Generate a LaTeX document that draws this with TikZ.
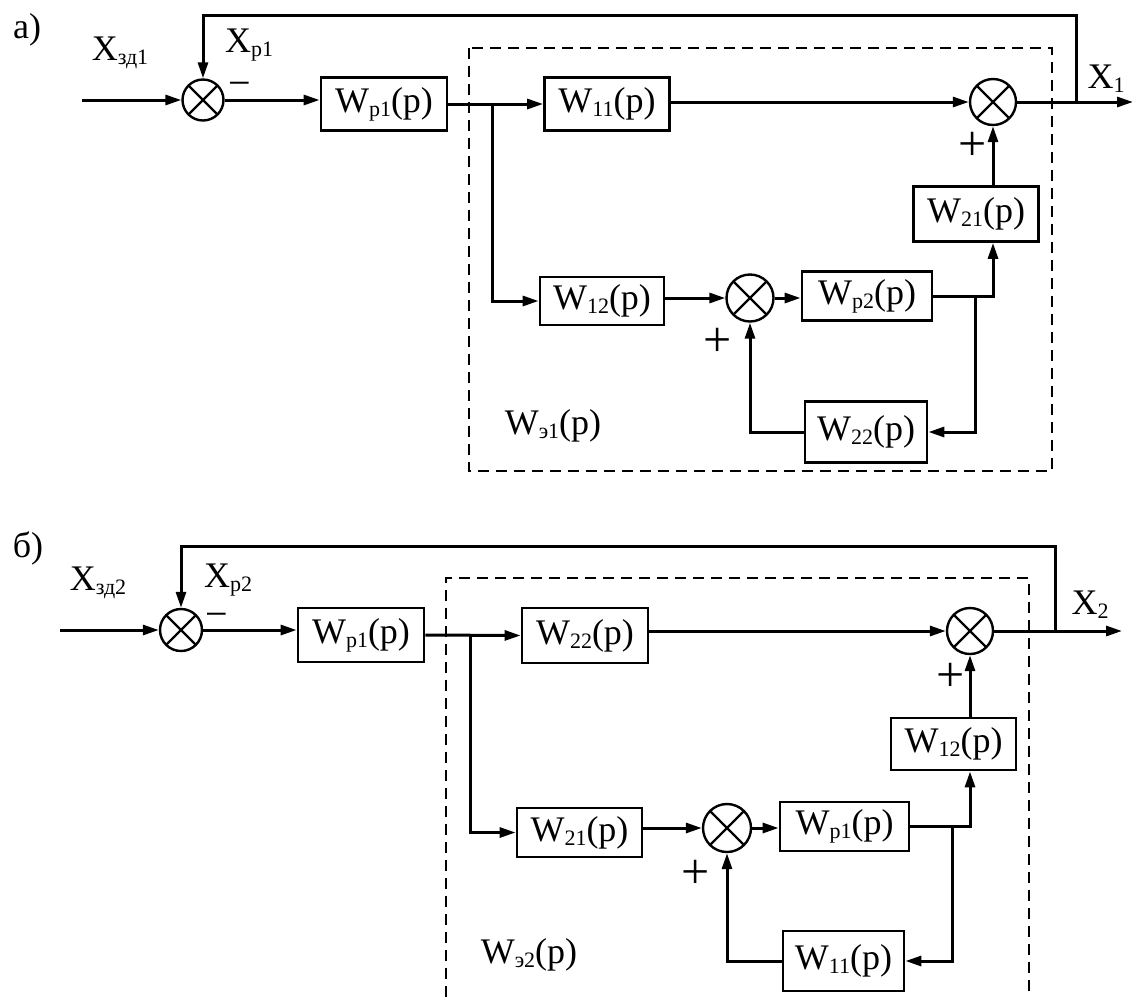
\documentclass[tikz,border=0pt]{standalone}
\usepackage{fontspec}
\setmainfont{Liberation Serif}
\usetikzlibrary{arrows.meta,calc}
\newcommand\sbx[1]{\raisebox{-4pt}{\fontsize{22}{22}\selectfont #1}}
\begin{document}
\begin{tikzpicture}[x=1pt,y=-1pt,
  blk/.style={draw, line width=2.8pt, rectangle, inner sep=0pt, font=\fontsize{36}{40}\selectfont},
  sum/.style={draw, circle, line width=2.4pt, inner sep=0pt, minimum size=44pt,
    path picture={\draw[line width=2.4pt] (path picture bounding box.north west) -- (path picture bounding box.south east)
      (path picture bounding box.north east) -- (path picture bounding box.south west);}},
  lbl/.style={inner sep=0pt, font=\fontsize{36}{40}\selectfont},
  sgnm/.style={inner sep=0pt, anchor=base, font=\fontsize{40}{40}\selectfont},
  sgnp/.style={inner sep=0pt, anchor=base, font=\fontsize{50}{50}\selectfont},
  arr/.style={line width=3pt, -{Triangle[length=16pt,width=10pt]}},
  frame/.style={line width=2.4pt, dash pattern=on 11pt off 7pt},
]
\useasboundingbox (0,0) rectangle (1134,997);

% ---------- a) ----------
\node[lbl] (la) at (27,30) {а)};
\node[lbl] (Xzd1) at (120,53) {X\sbx{зд1}};
\node[lbl] (Xp1) at (249,45) {X\sbx{p1}};
\node[sgnm] (m1) at (240,96) {−};
\node[lbl] (X1) at (1106,79) {X\sbx{1}};
\node[lbl] (We1) at (553,426) {W\sbx{э1}(p)};

\node[sum, minimum size=41pt] (S1a) at (203,100) {};
\node[blk, minimum width=126pt, minimum height=53pt] (Wp1a) at (384,104) {W\sbx{p1}(p)};
\node[blk, minimum width=125pt, minimum height=53pt] (W11a) at (607,104) {W\sbx{11}(p)};
\node[sum, minimum size=46pt] (S2a) at (993,102) {};
\node[blk, minimum width=125pt, minimum height=55pt] (W21a) at (976,214) {W\sbx{21}(p)};
\node[blk, minimum width=124pt, minimum height=48pt] (W12a) at (602,301) {W\sbx{12}(p)};
\node[sum, minimum size=47pt] (S3a) at (750,298) {};
\node[blk, minimum width=130pt, minimum height=49pt] (Wp2a) at (867,296) {W\sbx{p2}(p)};
\node[blk, minimum width=122pt, minimum height=61pt] (W22a) at (866,432) {W\sbx{22}(p)};
\node[sgnp] (pa1) at (973,160) {+};
\node[sgnp] (pa2) at (718,356) {+};

\coordinate (ina) at (82,100);
\coordinate (outa) at (1133,102);
\coordinate (fba) at (1076,102);
\coordinate (topa) at (1076,15);
\coordinate (bra) at (492,104);
\coordinate (br3a) at ($(Wp2a.east)+(42,0)$);

\draw[arr] (ina) -- (S1a.west);
\draw[arr] (fba) -- (topa) -| (S1a.north);
\draw[arr] (S1a.east) -- (S1a.east -| Wp1a.west);
\draw[arr] (Wp1a.east) -- (W11a.west);
\draw[arr] (bra) |- (W12a.west);
\draw[arr] (W11a.east |- S2a.west) -- (S2a.west);
\draw[arr] (S2a.east) -- (outa);
\draw[arr] (W12a.east |- S3a.west) -- (S3a.west);
\draw[arr] (S3a.east) -- (S3a.east -| Wp2a.west);
\draw[arr] (Wp2a.east) -| (S2a.south |- W21a.south);
\draw[arr] (S2a.south |- W21a.north) -- (S2a.south);
\draw[arr] (br3a) |- (W22a.east);
\draw[arr] (W22a.west) -| (S3a.south);
\draw[frame] (469,48) rectangle (1052,471);

% ---------- b) ----------
\node[lbl] (lb) at (28,548) {б)};
\node[lbl] (Xzd2) at (98,583) {X\sbx{зд2}};
\node[lbl] (Xp2) at (228,580) {X\sbx{p2}};
\node[sgnm] (m2) at (217,627) {−};
\node[lbl] (X2) at (1090,605) {X\sbx{2}};
\node[lbl] (We2) at (529,955) {W\sbx{э2}(p)};

\node[sum, minimum size=42pt] (S1b) at (181,630) {};
\node[blk, minimum width=126pt, minimum height=54pt] (Wp1b) at (361,635) {W\sbx{p1}(p)};
\node[blk, minimum width=126pt, minimum height=55pt] (W22b) at (585,635.5) {W\sbx{22}(p)};
\node[sum, minimum size=46pt] (S2b) at (970,631) {};
\node[blk, minimum width=125pt, minimum height=52pt] (W12b) at (953.5,744) {W\sbx{12}(p)};
\node[blk, minimum width=125pt, minimum height=49pt] (W21b) at (579.5,832.5) {W\sbx{21}(p)};
\node[sum, minimum size=48pt] (S3b) at (727,828) {};
\node[blk, minimum width=129pt, minimum height=49pt] (Wp1c) at (844.5,826.5) {W\sbx{p1}(p)};
\node[blk, minimum width=121pt, minimum height=60pt] (W11b) at (843.5,961) {W\sbx{11}(p)};
\node[sgnp] (pb1) at (951,691) {+};
\node[sgnp] (pb2) at (696,888) {+};

\coordinate (inb) at (60,630);
\coordinate (outb) at (1122,631);
\coordinate (fbb) at (1055,631);
\coordinate (topb) at (1055,546);
\coordinate (brb) at (470,636);
\coordinate (br3b) at ($(Wp1c.east)+(42,0)$);

\draw[arr] (inb) -- (S1b.west);
\draw[arr] (fbb) -- (topb) -| (S1b.north);
\draw[arr] (S1b.east) -- (S1b.east -| Wp1b.west);
\draw[arr] (Wp1b.east) -- (W22b.west);
\draw[arr] (brb) |- (W21b.west);
\draw[arr] (W22b.east |- S2b.west) -- (S2b.west);
\draw[arr] (S2b.east) -- (outb);
\draw[arr] (W21b.east |- S3b.west) -- (S3b.west);
\draw[arr] (S3b.east) -- (S3b.east -| Wp1c.west);
\draw[arr] (Wp1c.east) -| (S2b.south |- W12b.south);
\draw[arr] (S2b.south |- W12b.north) -- (S2b.south);
\draw[arr] (br3b) |- (W11b.east);
\draw[arr] (W11b.west) -| (S3b.south);
\draw[frame] (446,997) -- (446,578) -- (1029,578) -- (1029,997);
\end{tikzpicture}
\end{document}
